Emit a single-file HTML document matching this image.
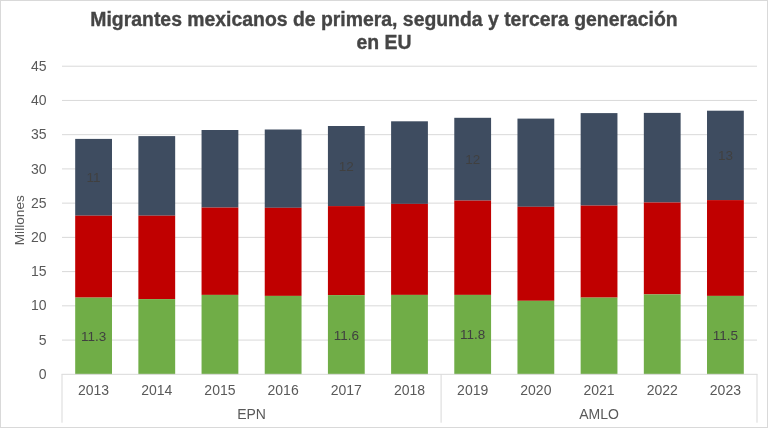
<!DOCTYPE html>
<html><head><meta charset="utf-8"><style>
html,body{margin:0;padding:0;background:#fff;width:768px;height:428px;overflow:hidden}
svg{display:block;filter:blur(0.35px)}
.ax{font-family:"Liberation Sans",sans-serif;font-size:14px;fill:#595959}
.dl{font-family:"Liberation Sans",sans-serif;font-size:13.5px;fill:#404040}
.tt{font-family:"Liberation Sans",sans-serif;font-size:19.4px;font-weight:bold;fill:#454545;stroke:#454545;stroke-width:0.35px}
</style></head><body>
<svg width="768" height="428" viewBox="0 0 768 428">
<rect x="0" y="0" width="768" height="428" fill="#fff"/>
<rect x="0.5" y="0.5" width="767" height="427" fill="none" stroke="#D9D9D9" stroke-width="1"/>
<rect x="62.0" y="339.57" width="695.0" height="1" fill="#D9D9D9"/>
<text x="46.5" y="344.67" class="ax" text-anchor="end">5</text>
<rect x="62.0" y="305.33" width="695.0" height="1" fill="#D9D9D9"/>
<text x="46.5" y="310.43" class="ax" text-anchor="end">10</text>
<rect x="62.0" y="271.10" width="695.0" height="1" fill="#D9D9D9"/>
<text x="46.5" y="276.20" class="ax" text-anchor="end">15</text>
<rect x="62.0" y="236.87" width="695.0" height="1" fill="#D9D9D9"/>
<text x="46.5" y="241.97" class="ax" text-anchor="end">20</text>
<rect x="62.0" y="202.63" width="695.0" height="1" fill="#D9D9D9"/>
<text x="46.5" y="207.73" class="ax" text-anchor="end">25</text>
<rect x="62.0" y="168.40" width="695.0" height="1" fill="#D9D9D9"/>
<text x="46.5" y="173.50" class="ax" text-anchor="end">30</text>
<rect x="62.0" y="134.17" width="695.0" height="1" fill="#D9D9D9"/>
<text x="46.5" y="139.27" class="ax" text-anchor="end">35</text>
<rect x="62.0" y="99.93" width="695.0" height="1" fill="#D9D9D9"/>
<text x="46.5" y="105.03" class="ax" text-anchor="end">40</text>
<rect x="62.0" y="65.70" width="695.0" height="1" fill="#D9D9D9"/>
<text x="46.5" y="70.80" class="ax" text-anchor="end">45</text>
<text x="46.5" y="378.90" class="ax" text-anchor="end">0</text>
<rect x="75.19" y="138.9" width="36.8" height="76.80" fill="#3E4C60"/>
<rect x="75.19" y="215.7" width="36.8" height="81.90" fill="#C00000"/>
<rect x="75.19" y="297.6" width="36.8" height="76.70" fill="#70AD47"/>
<text x="93.59" y="395" class="ax" text-anchor="middle">2013</text>
<rect x="138.37" y="136.1" width="36.8" height="79.60" fill="#3E4C60"/>
<rect x="138.37" y="215.7" width="36.8" height="83.40" fill="#C00000"/>
<rect x="138.37" y="299.1" width="36.8" height="75.20" fill="#70AD47"/>
<text x="156.77" y="395" class="ax" text-anchor="middle">2014</text>
<rect x="201.55" y="130.0" width="36.8" height="77.60" fill="#3E4C60"/>
<rect x="201.55" y="207.6" width="36.8" height="87.30" fill="#C00000"/>
<rect x="201.55" y="294.9" width="36.8" height="79.40" fill="#70AD47"/>
<text x="219.95" y="395" class="ax" text-anchor="middle">2015</text>
<rect x="264.74" y="129.5" width="36.8" height="78.30" fill="#3E4C60"/>
<rect x="264.74" y="207.8" width="36.8" height="88.10" fill="#C00000"/>
<rect x="264.74" y="295.9" width="36.8" height="78.40" fill="#70AD47"/>
<text x="283.14" y="395" class="ax" text-anchor="middle">2016</text>
<rect x="327.92" y="126.0" width="36.8" height="80.10" fill="#3E4C60"/>
<rect x="327.92" y="206.1" width="36.8" height="89.00" fill="#C00000"/>
<rect x="327.92" y="295.1" width="36.8" height="79.20" fill="#70AD47"/>
<text x="346.32" y="395" class="ax" text-anchor="middle">2017</text>
<rect x="391.10" y="121.3" width="36.8" height="82.60" fill="#3E4C60"/>
<rect x="391.10" y="203.9" width="36.8" height="91.00" fill="#C00000"/>
<rect x="391.10" y="294.9" width="36.8" height="79.40" fill="#70AD47"/>
<text x="409.50" y="395" class="ax" text-anchor="middle">2018</text>
<rect x="454.28" y="117.8" width="36.8" height="82.80" fill="#3E4C60"/>
<rect x="454.28" y="200.6" width="36.8" height="94.30" fill="#C00000"/>
<rect x="454.28" y="294.9" width="36.8" height="79.40" fill="#70AD47"/>
<text x="472.68" y="395" class="ax" text-anchor="middle">2019</text>
<rect x="517.46" y="118.6" width="36.8" height="88.20" fill="#3E4C60"/>
<rect x="517.46" y="206.8" width="36.8" height="94.00" fill="#C00000"/>
<rect x="517.46" y="300.8" width="36.8" height="73.50" fill="#70AD47"/>
<text x="535.86" y="395" class="ax" text-anchor="middle">2020</text>
<rect x="580.65" y="113.1" width="36.8" height="92.50" fill="#3E4C60"/>
<rect x="580.65" y="205.6" width="36.8" height="92.00" fill="#C00000"/>
<rect x="580.65" y="297.6" width="36.8" height="76.70" fill="#70AD47"/>
<text x="599.05" y="395" class="ax" text-anchor="middle">2021</text>
<rect x="643.83" y="112.9" width="36.8" height="89.60" fill="#3E4C60"/>
<rect x="643.83" y="202.5" width="36.8" height="91.90" fill="#C00000"/>
<rect x="643.83" y="294.4" width="36.8" height="79.90" fill="#70AD47"/>
<text x="662.23" y="395" class="ax" text-anchor="middle">2022</text>
<rect x="707.01" y="110.7" width="36.8" height="89.40" fill="#3E4C60"/>
<rect x="707.01" y="200.1" width="36.8" height="95.80" fill="#C00000"/>
<rect x="707.01" y="295.9" width="36.8" height="78.40" fill="#70AD47"/>
<text x="725.41" y="395" class="ax" text-anchor="middle">2023</text>
<rect x="61.5" y="373.8" width="696.0" height="1" fill="#D9D9D9"/>
<rect x="61.50" y="374.3" width="1" height="48.40" fill="#D9D9D9"/>
<rect x="440.59" y="374.3" width="1" height="48.40" fill="#D9D9D9"/>
<rect x="756.50" y="374.3" width="1" height="48.40" fill="#D9D9D9"/>
<text x="251.55" y="419" class="ax" text-anchor="middle">EPN</text>
<text x="599.05" y="419" class="ax" text-anchor="middle">AMLO</text>
<text x="93.59" y="182.10" class="dl" text-anchor="middle">11</text>
<text x="93.59" y="340.75" class="dl" text-anchor="middle">11.3</text>
<text x="346.32" y="170.85" class="dl" text-anchor="middle">12</text>
<text x="346.32" y="339.50" class="dl" text-anchor="middle">11.6</text>
<text x="472.68" y="164.00" class="dl" text-anchor="middle">12</text>
<text x="472.68" y="339.40" class="dl" text-anchor="middle">11.8</text>
<text x="725.41" y="160.20" class="dl" text-anchor="middle">13</text>
<text x="725.41" y="339.90" class="dl" text-anchor="middle">11.5</text>
<text x="0" y="0" class="ax" style="font-size:13.7px" text-anchor="middle" transform="translate(24.4 220.2) rotate(-90)">Millones</text>
<text x="384" y="26.3" class="tt" text-anchor="middle">Migrantes mexicanos de primera, segunda y tercera generación</text>
<text x="384" y="48.8" class="tt" text-anchor="middle">en EU</text>
</svg>
</body></html>
